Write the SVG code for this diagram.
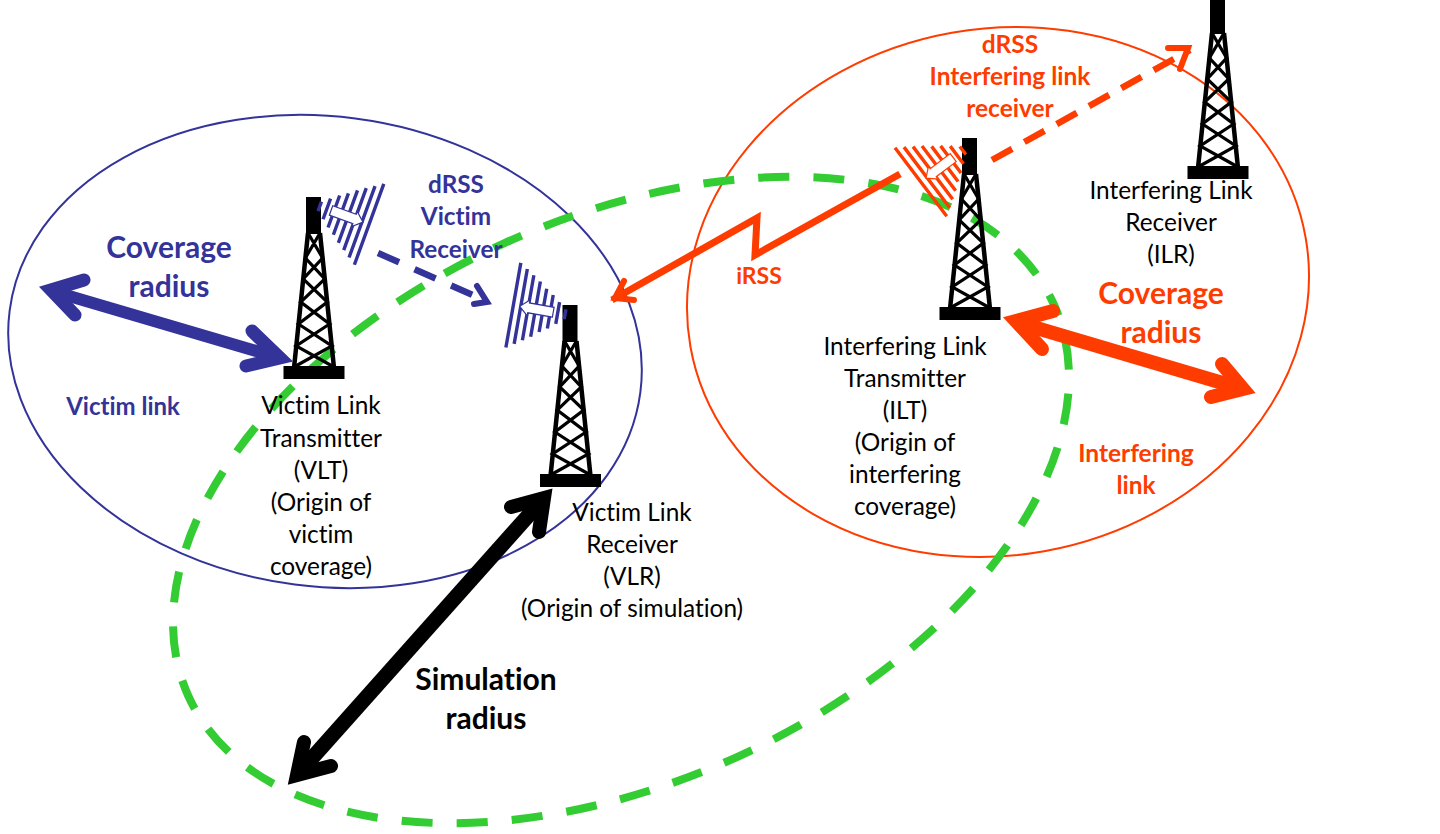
<svg xmlns="http://www.w3.org/2000/svg" xmlns:xlink="http://www.w3.org/1999/xlink" width="1440" height="834" viewBox="0 0 1440 834">
<style>
text{font-family:"Lato","Open Sans",sans-serif;text-anchor:middle;font-variant-ligatures:none}
.n{font-size:24.4px;fill:#000}
.b{font-weight:700}
.blue{fill:#333399}.red{fill:#ff3c00}.blk{fill:#000}
.ell{fill:none;stroke-width:2}
.shaft{fill:none;stroke-linecap:butt}
.head{fill:none;stroke-linecap:round;stroke-linejoin:miter;stroke-miterlimit:10}
</style>
<defs>
<g id="tower">
<rect x="-8" y="-169" width="15" height="37" fill="#000"/>
<rect x="-30.5" y="0" width="61" height="13" fill="#000"/>
<path d="M-6-133L-20 2M6-133L20 2" fill="none" stroke="#000" stroke-width="4.500"/>
<path d="M-6-133L8.600-108L-10.800-87L13.300-64L-15.600-42L17.900-20L-20 1M6-133L-8.600-108L10.800-87L-13.300-64L15.600-42L-17.900-20L20 1" fill="none" stroke="#000" stroke-width="3.200"/>
</g>
<g id="ant">
<path d="M4-5V5M11.500-11V11M19-17V17M26.500-22V22M34-28V28M41.500-33V33M49-38V38M56.500-43V43" fill="none" stroke-width="3.400"/>
<path d="M16-5H41V-8L50 0L41 8V5H16Z" fill="#fff" stroke-width="1.200"/>
</g>
</defs>
<g id="coverage-ellipses">
<ellipse id="victim-ellipse" cx="325" cy="351.500" rx="318" ry="235" transform="rotate(7.400 325 351.500)" class="ell" stroke="#333399"/>
<ellipse id="interfering-ellipse" cx="998" cy="292" rx="312.400" ry="263.300" transform="rotate(-10.100 998 292)" class="ell" stroke="#ff3c00"/>
<ellipse id="simulation-ellipse" cx="621" cy="500" rx="475" ry="282" transform="rotate(-24.400 621 500)" fill="none" stroke="#33cc33" stroke-width="8" stroke-dasharray="31 24.100" stroke-dashoffset="18.100"/>
</g>
<g id="VLT"><use xlink:href="#tower" href="#tower" transform="translate(314 366)"/>
<use xlink:href="#ant" href="#ant" transform="translate(316 205) rotate(20)" stroke="#333399"/>
<text class="n" x="321" y="414">Victim Link</text><text class="n" x="321" y="447">Transmitter</text><text class="n" x="321" y="479">(VLT)</text><text class="n" x="321" y="511">(Origin of</text><text class="n" x="321" y="543">victim</text><text class="n" x="321" y="575">coverage)</text></g>
<g id="VLR"><use xlink:href="#tower" href="#tower" transform="translate(570.500 474)"/>
<use xlink:href="#ant" href="#ant" transform="translate(569 315) rotate(190)" stroke="#333399"/>
<text class="n" x="632" y="521">Victim Link</text><text class="n" x="632" y="553">Receiver</text><text class="n" x="632" y="585">(VLR)</text><text class="n" x="632" y="617">(Origin of simulation)</text></g>
<g id="ILT"><use xlink:href="#tower" href="#tower" transform="translate(970 307)"/>
<use xlink:href="#ant" href="#ant" transform="translate(966 148) rotate(143)" stroke="#ff3c00"/>
<text class="n" x="905" y="355">Interfering Link</text><text class="n" x="905" y="387">Transmitter</text><text class="n" x="905" y="419">(ILT)</text><text class="n" x="905" y="451">(Origin of</text><text class="n" x="905" y="483">interfering</text><text class="n" x="905" y="515">coverage)</text></g>
<g id="ILR"><use xlink:href="#tower" href="#tower" transform="translate(1218 166)"/>
<text class="n" x="1171" y="199">Interfering Link</text><text class="n" x="1171" y="231">Receiver</text><text class="n" x="1171" y="263">(ILR)</text></g>
<g id="labels">
<g class="b blue"><text font-size="30" x="169" y="258">Coverage</text><text font-size="30" x="169" y="297">radius</text><text font-size="24" x="123" y="415">Victim link</text><text font-size="24.300" x="456" y="193">dRSS</text><text font-size="24.300" x="456" y="225">Victim</text><text font-size="24.300" x="456" y="258">Receiver</text></g>
<g class="b red"><text font-size="24.500" x="1010" y="53">dRSS</text><text font-size="24.500" x="1010" y="85">Interfering link</text><text font-size="24.500" x="1010" y="117">receiver</text><text font-size="23" x="759" y="284">iRSS</text><text font-size="30" x="1161" y="304">Coverage</text><text font-size="30" x="1161" y="343">radius</text><text font-size="24.500" x="1136" y="462">Interfering</text><text font-size="24.500" x="1136" y="494">link</text></g>
<g class="b blk"><text font-size="30" x="486" y="690">Simulation</text><text font-size="30" x="486" y="729">radius</text></g>
</g>
<g id="connectors">
<g stroke="#333399"><path class="shaft" d="M52 291L280 358" stroke-width="12"/><path class="head" d="M84 280L51 290L75 315M252 331L280 358L246 366" stroke-width="13"/>
<path class="shaft" d="M378 253L486 301" stroke-width="6.500" stroke-dasharray="23 17"/><path class="head" d="M474 304L487 302L477 286" stroke-width="6"/></g>
<g stroke="#000"><path class="shaft" d="M544 498L297 775" stroke-width="15"/><path class="head" d="M511 507L544 498L539 532M304 742L297 775L331 766" stroke-width="14"/></g>
<g stroke="#ff3c00"><path class="shaft" d="M1016 322L1243 389" stroke-width="14"/><path class="head" d="M1053 311L1016 321L1042 349M1222 364L1243 389L1211 397" stroke-width="14"/>
<path class="shaft" d="M992 160L1190 50" stroke-width="6.500" stroke-dasharray="23 14"/><path class="head" d="M1168 48L1188 48L1180 69" stroke-width="6"/>
<path d="M900 174L755 255L757 218L612 300" fill="none" stroke-width="7" stroke-linejoin="miter"/><path class="head" d="M624 281L615 298L634 300" stroke-width="6"/></g>
</g>
</svg>
